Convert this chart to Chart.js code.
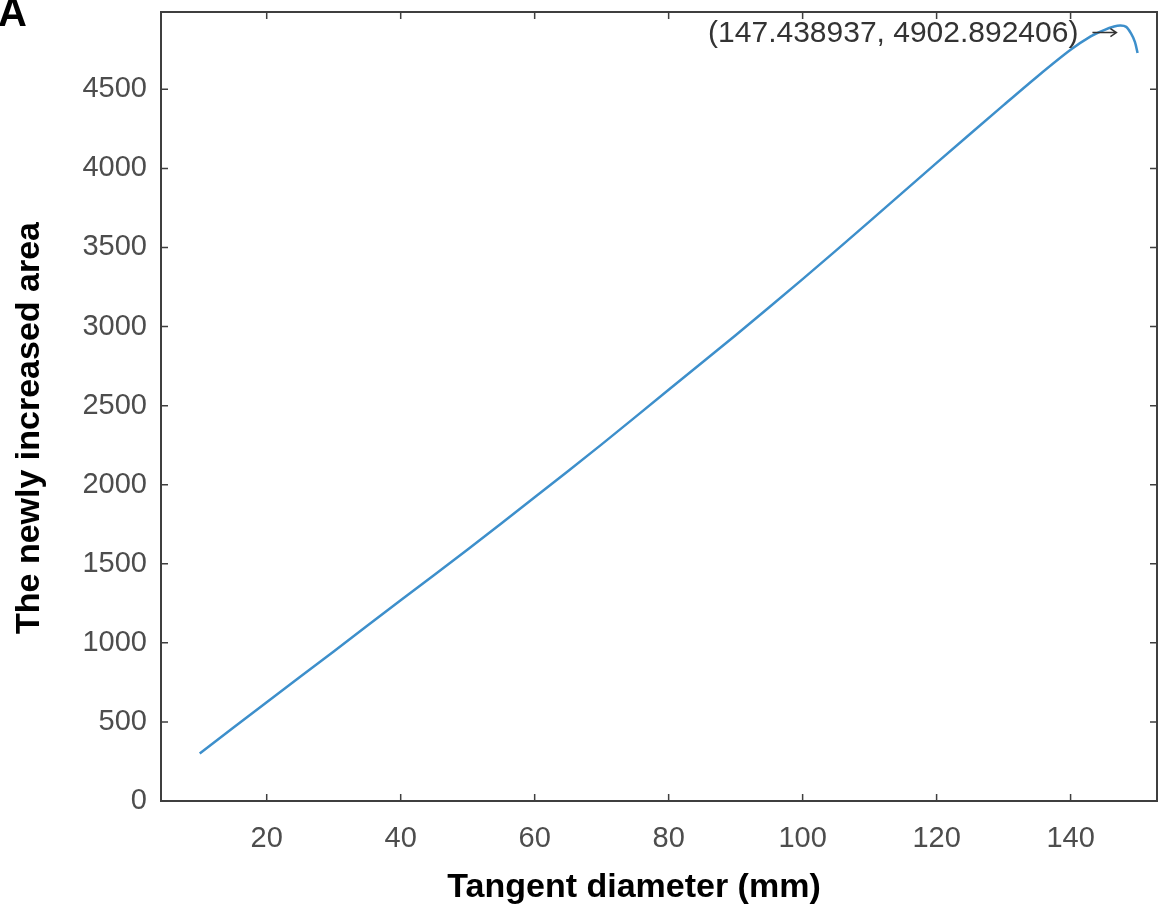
<!DOCTYPE html>
<html>
<head>
<meta charset="utf-8">
<script src="https://cdn.jsdelivr.net/npm/chart.js@4/dist/chart.umd.min.js"></script>
<style>
    html, body { margin: 0; padding: 0; background: #ffffff; }
    canvas { display: block; }
</style>
</head>
<body>
<canvas id="areaChart" width="1159" height="915"></canvas>
<script>
// values
const diameters = [10, 20, 30, 40, 50, 60, 70, 80, 90, 100, 110, 120, 130, 135, 140, 143, 145, 146.5, 147.44, 148.3, 149, 149.6, 150];
const areas = [300, 625, 945, 1270, 1590, 1920, 2255, 2600, 2945, 3300, 3665, 4035, 4400, 4580, 4750, 4835, 4875, 4897, 4903, 4895, 4855, 4800, 4730];

const xTicks = [20, 40, 60, 80, 100, 120, 140];
const yTicks = [0, 500, 1000, 1500, 2000, 2500, 3000, 3500, 4000, 4500];

const peakX = 147.438937;
const peakY = 4902.892406;
const peakLabel = '(147.438937, 4902.892406)';

const xTitle = 'Tangent diameter (mm)';
const yTitle = 'The newly increased area';
const panelLetter = 'A';

const frameColor = '#3f3f3f';
const labelColor = '#4d4d4d';

// box round the plot with inward ticks on all four sides, like matlab
const boxPlugin = {
    id: 'boxPlugin',
    afterDraw(chart) {
        const ctx = chart.ctx;
        const area = chart.chartArea;
        const xs = chart.scales.x;
        const ys = chart.scales.y;
        const tick = 7;

        ctx.save();
        ctx.strokeStyle = frameColor;
        ctx.lineWidth = 2;
        ctx.strokeRect(area.left, area.top, area.right - area.left, area.bottom - area.top);

        ctx.lineWidth = 1.5;
        ctx.beginPath();
        xs.ticks.forEach(t => {
            const px = xs.getPixelForValue(t.value);
            ctx.moveTo(px, area.bottom);
            ctx.lineTo(px, area.bottom - tick);
            ctx.moveTo(px, area.top);
            ctx.lineTo(px, area.top + tick);
        });
        ys.ticks.forEach(t => {
            const py = ys.getPixelForValue(t.value);
            ctx.moveTo(area.left, py);
            ctx.lineTo(area.left + tick, py);
            ctx.moveTo(area.right, py);
            ctx.lineTo(area.right - tick, py);
        });
        ctx.stroke();
        ctx.restore();
    }
};

// axis titles, panel letter and the data tip at the peak
const textPlugin = {
    id: 'textPlugin',
    afterDraw(chart) {
        const ctx = chart.ctx;
        const xs = chart.scales.x;
        const ys = chart.scales.y;

        ctx.save();
        ctx.fillStyle = '#000000';
        ctx.font = 'bold 34px "Liberation Sans", Arial, sans-serif';
        ctx.textAlign = 'center';
        ctx.textBaseline = 'middle';
        ctx.fillText(xTitle, 634, 888);

        ctx.save();
        ctx.translate(30, 428);
        ctx.rotate(-Math.PI / 2);
        ctx.fillText(yTitle, 0, 0);
        ctx.restore();

        ctx.font = 'bold 40px "Liberation Sans", Arial, sans-serif';
        ctx.textAlign = 'left';
        ctx.textBaseline = 'alphabetic';
        ctx.fillText(panelLetter, -2, 26);

        const px = xs.getPixelForValue(peakX);
        const py = ys.getPixelForValue(peakY);

        ctx.fillStyle = '#333333';
        ctx.font = '30px "Liberation Sans", Arial, sans-serif';
        ctx.textAlign = 'right';
        ctx.textBaseline = 'middle';
        ctx.fillText(peakLabel, px - 42, py + 8);

        // arrow pointing at the peak
        ctx.strokeStyle = '#333333';
        ctx.lineWidth = 1.5;
        ctx.beginPath();
        ctx.moveTo(px - 28, py + 7);
        ctx.lineTo(px - 4, py + 7);
        ctx.moveTo(px - 10, py + 3);
        ctx.lineTo(px - 4, py + 7);
        ctx.lineTo(px - 10, py + 11);
        ctx.stroke();
        ctx.restore();
    }
};

function buildPoints() {
    return diameters.map((d, i) => ({ x: d, y: areas[i] }));
}

function initAreaChart() {
    const canvas = document.getElementById('areaChart');

    if (!canvas) {
        return;
    }

    const ctx = canvas.getContext('2d');

    new Chart(ctx, {
        type: 'scatter',
        data: {
            datasets: [{
                label: 'area',
                data: buildPoints(),
                showLine: true,
                borderColor: '#3d8fcb',
                borderWidth: 2.5,
                pointRadius: 0,
                tension: 0.3
            }]
        },
        options: {
            responsive: false,
            animation: false,
            layout: {
                padding: { top: 12, right: 2, left: 0, bottom: 0 }
            },
            plugins: {
                legend: { display: false },
                tooltip: { enabled: false }
            },
            scales: {
                x: {
                    type: 'linear',
                    min: 4.22,
                    max: 152.9,
                    afterBuildTicks: scale => {
                        scale.ticks = xTicks.map(v => ({ value: v }));
                    },
                    afterFit: scale => {
                        scale.height = 114;
                        scale.paddingLeft = 0;
                        scale.paddingRight = 0;
                    },
                    grid: { display: false, drawTicks: false },
                    border: { display: false },
                    ticks: {
                        color: labelColor,
                        padding: 21,
                        maxRotation: 0,
                        callback: v => String(v),
                        font: { family: '"Liberation Sans", Arial, sans-serif', size: 29 }
                    }
                },
                y: {
                    type: 'linear',
                    min: 0,
                    max: 4989,
                    afterBuildTicks: scale => {
                        scale.ticks = yTicks.map(v => ({ value: v }));
                    },
                    afterFit: scale => {
                        scale.width = 161;
                        scale.paddingTop = 0;
                        scale.paddingBottom = 0;
                    },
                    grid: { display: false, drawTicks: false },
                    border: { display: false },
                    ticks: {
                        color: labelColor,
                        padding: 14,
                        callback: v => String(v),
                        font: { family: '"Liberation Sans", Arial, sans-serif', size: 29 }
                    }
                }
            }
        },
        plugins: [boxPlugin, textPlugin]
    });
}

initAreaChart();
</script>
</body>
</html>
